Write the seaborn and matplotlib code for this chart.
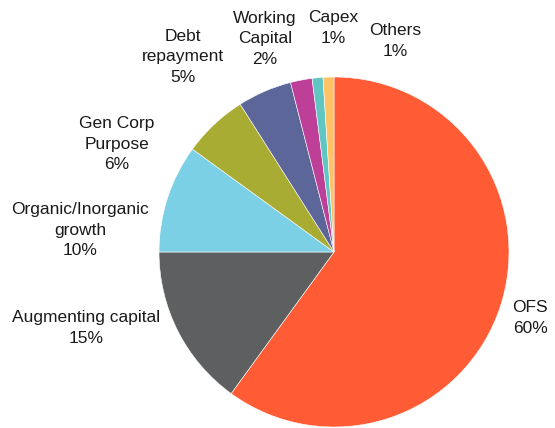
import matplotlib
matplotlib.use("Agg")
import matplotlib.pyplot as plt
import seaborn as sns

categories = ["OFS", "Augmenting capital", "Organic/Inorganic\ngrowth", "Gen Corp\nPurpose",
              "Debt\nrepayment", "Working\nCapital", "Capex", "Others"]
values = [60, 15, 10, 6, 5, 2, 1, 1]
colors = ["#FF5C35", "#5E5F61", "#7CD0E6", "#A8AC33", "#5D6698", "#BE3F97", "#5FC6C1", "#FFC266"]

# label centres in pixels (x, y from top)
label_pos = [(530, 318), (86, 328), (80, 230), (117, 144), (183, 57), (265, 39), (333, 28), (395, 41)]

sns.set_style("white")
plt.rcParams['font.family'] = ['Liberation Sans', 'DejaVu Sans']

W, H = 555, 428
cx, cy, R = 334, 252, 175
fig = plt.figure(figsize=(W / 100, H / 100), dpi=100)
ax = fig.add_axes([0, 0, 1, 1])
ax.pie(values, colors=colors, startangle=90, counterclock=False, radius=1,
       wedgeprops=dict(edgecolor="white", linewidth=0.4))
ax.set_xlim(-cx / R, (W - cx) / R)
ax.set_ylim(-(H - cy) / R, cy / R)
ax.set_aspect("equal")
ax.axis("off")

for cat, val, (px, py) in zip(categories, values, label_pos):
    fig.text(px / W, 1 - py / H, f"{cat}\n{val}%", ha="center", va="center",
             fontsize=12.5, color="#1a1a1a", linespacing=1.45)

fig.savefig("out.png", dpi=100)
